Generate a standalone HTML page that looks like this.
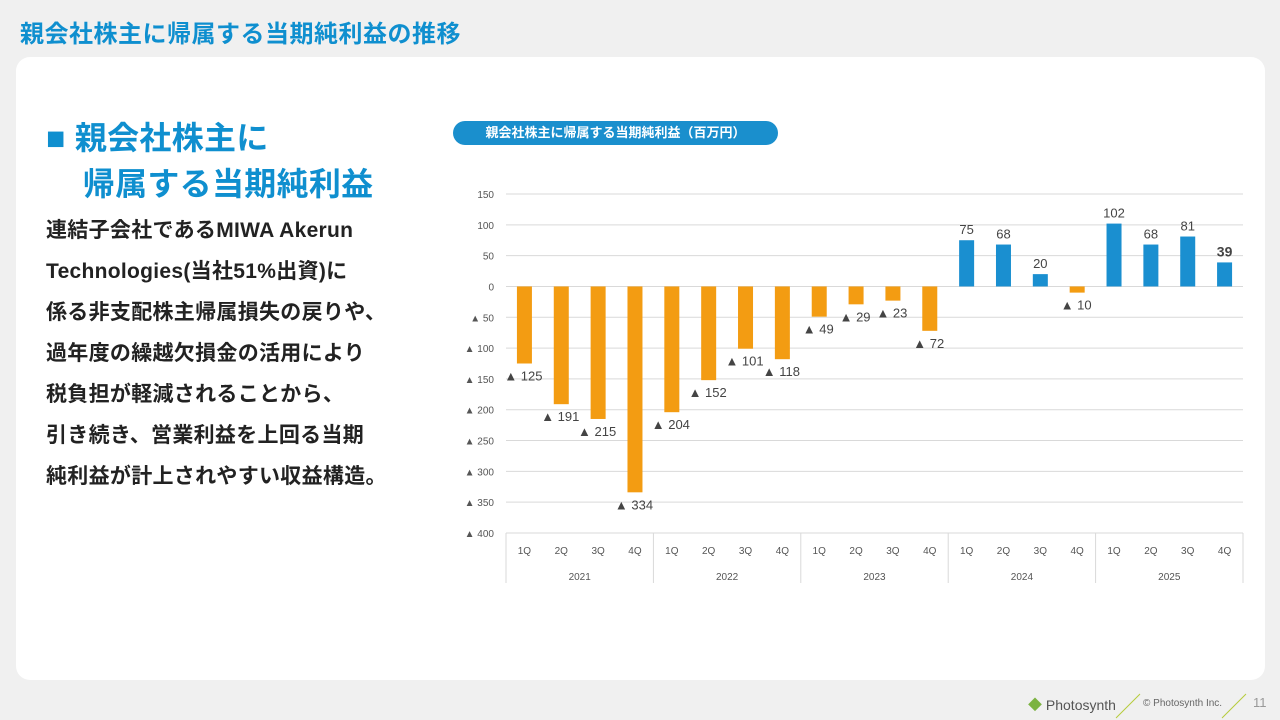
<!DOCTYPE html>
<html><head><meta charset="utf-8">
<style>
body{margin:0;width:1280px;height:720px;background:#f0f0f0;font-family:"Liberation Sans","Noto Sans CJK JP",sans-serif;position:relative;overflow:hidden}
.title{position:absolute;left:20px;top:14px;font-size:24px;font-weight:bold;color:#0f8fcf;letter-spacing:0.5px}
.card{position:absolute;left:16px;top:57px;width:1249px;height:623px;background:#fff;border-radius:14px}
.h{position:absolute;left:46px;top:115px;font-size:32px;font-weight:bold;color:#0f8fcf;line-height:46px;letter-spacing:0.3px}
.body{position:absolute;left:46px;top:210px;font-size:21px;font-weight:bold;color:#222;line-height:41px;letter-spacing:0.3px}
.pill{position:absolute;left:453px;top:121px;width:325px;height:24px;border-radius:12px;background:#1a8fcd;color:#fff;font-size:13px;font-weight:bold;text-align:center;line-height:24px}
.foot{position:absolute;top:694px;font-size:14px;color:#666}
</style></head><body>
<div class="title">親会社株主に帰属する当期純利益の推移</div>
<div class="card"></div>
<div class="h">■ 親会社株主に<br>&nbsp;&nbsp;&nbsp;&nbsp;帰属する当期純利益</div>
<div class="body">連結子会社であるMIWA Akerun<br>Technologies(当社51%出資)に<br>係る非支配株主帰属損失の戻りや、<br>過年度の繰越欠損金の活用により<br>税負担が軽減されることから、<br>引き続き、営業利益を上回る当期<br>純利益が計上されやすい収益構造。</div>
<div class="pill">親会社株主に帰属する当期純利益（百万円）</div>
<svg id="chart" width="1280" height="720" style="position:absolute;left:0;top:0"></svg>
<div class="foot" style="left:1028px;color:#555;font-size:14px;top:695px"><span style="color:#7cb342">◆</span> Photosynth</div>
<svg width="1280" height="720" style="position:absolute;left:0;top:0;pointer-events:none"><line x1="1116" y1="718" x2="1140" y2="694" stroke="#b5cc3a"/><line x1="1222" y1="718" x2="1246" y2="694" stroke="#b5cc3a"/></svg>
<div class="foot" style="left:1143px;font-size:10px;top:698px">© Photosynth Inc.</div>
<div class="foot" style="left:1253px;color:#999;top:695px;font-size:13px">11</div>
<script>
const years=["2021","2022","2023","2024","2025"];
const quarters=["1Q","2Q","3Q","4Q"];
const values=[-125,-191,-215,-334,-204,-152,-101,-118,-49,-29,-23,-72,75,68,20,-10,102,68,81,39];
const ticks=[150,100,50,0,-50,-100,-150,-200,-250,-300,-350,-400];
const svg=document.getElementById('chart');const NS='http://www.w3.org/2000/svg';
const x0=506,x1=1243,yTop=194,yBot=533,vMax=150,vMin=-400;
const y=v=>yTop+(vMax-v)*(yBot-yTop)/(vMax-vMin);
const bw=(x1-x0)/values.length;
const xc=i=>x0+bw*(i+0.5);
function mk(t,a,txt){const e=document.createElementNS(NS,t);for(const k in a)e.setAttribute(k,a[k]);if(txt!=null)e.textContent=txt;svg.appendChild(e);return e;}
const fmt=v=>v<0?'▲ '+(-v):String(v);
ticks.forEach(t=>{
 const l=mk('line',{x1:x0,x2:x1,y1:y(t),y2:y(t),stroke:'#d9d9d9','stroke-width':1});
 
 
 const tx=mk('text',{x:494,y:y(t)+4,'text-anchor':'end','font-size':10,fill:'#555'},fmt(t));
 
 
});
values.forEach((v,i)=>{
 const top=Math.min(y(v),y(0)),h=Math.abs(y(v)-y(0));
 const r=mk('rect',{x:xc(i)-7.5,y:top,width:15,height:h,fill:v<0?'#f39c12':'#1a8fd0'});
 
 
 const last=i===values.length-1;
 const ly=v<0?y(v)+17:y(v)-6;
 const lx=v<0?xc(i)-1:xc(i);
 const t=mk('text',{x:lx,y:ly,'text-anchor':'middle','font-size':last?14:13,'font-weight':last?'bold':'normal',fill:'#444'},v<0?'▲ '+(-v):String(v));
 
 
 const q=mk('text',{x:xc(i),y:554,'text-anchor':'middle','font-size':10,fill:'#555'},quarters[i%4]);
 
 
});
years.forEach((yr,j)=>{
 const xa=x0+bw*4*j;
 const s=mk('line',{x1:xa,x2:xa,y1:yBot,y2:583,stroke:'#d9d9d9'});
 
 
 const t=mk('text',{x:xa+bw*2,y:580,'text-anchor':'middle','font-size':10,fill:'#555'},yr);
 
 
});
const e=mk('line',{x1:x1,x2:x1,y1:yBot,y2:583,stroke:'#d9d9d9'});


</script>
</body></html>
